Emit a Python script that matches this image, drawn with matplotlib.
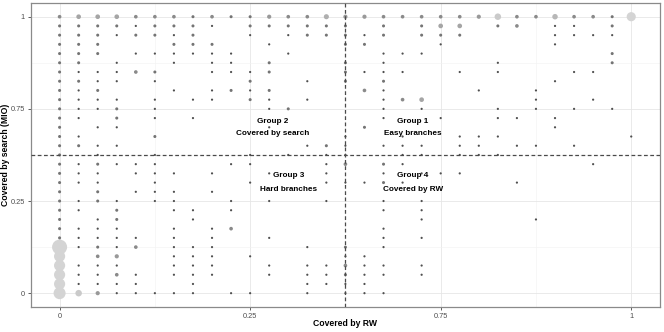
import numpy as np
import matplotlib
matplotlib.use("Agg")
import matplotlib.pyplot as plt

plt.rcParams['font.family'] = ['Liberation Sans', 'DejaVu Sans']

# Number of runs (out of 30) covering each branch: random walk (x) and search/MIO (y)
rw_runs = [
    # search = 30
    0, 1, 2, 3, 4, 5, 6, 7, 8, 9, 10, 11, 12, 13, 14, 15, 16, 17, 18, 19, 20, 21, 22, 23, 24, 25, 26, 27, 28, 29, 30,
    # 29
    0, 1, 2, 3, 4, 5, 6, 7, 8, 10, 11, 12, 13, 14, 15, 17, 19, 20, 21, 23, 24, 26, 27, 29,
    # 28
    0, 1, 2, 3, 4, 5, 6, 7, 10, 12, 13, 14, 15, 16, 17, 19, 20, 21, 26, 27, 28, 29,
    # 27
    0, 1, 2, 6, 7, 8, 11, 15, 16, 20, 26,
    # 26
    0, 1, 2, 4, 5, 6, 7, 8, 9, 12, 17, 18, 19, 29,
    # 25
    0, 1, 3, 6, 8, 9, 11, 15, 17, 23, 29,
    # 24
    0, 1, 2, 3, 4, 5, 8, 9, 10, 11, 15, 16, 17, 18, 21, 23, 27, 28,
    # 23
    0, 1, 2, 3, 5, 10, 13, 15, 17, 26,
    # 22
    0, 1, 2, 6, 8, 9, 10, 11, 16, 17, 22, 25,
    # 21
    0, 1, 2, 3, 5, 7, 8, 10, 11, 13, 17, 18, 19, 25, 28,
    # 20
    0, 1, 2, 3, 5, 11, 12, 17, 19, 23, 25, 27, 29,
    # 19
    0, 1, 3, 5, 7, 17, 20, 23, 24, 26,
    # 18
    0, 2, 3, 11, 16, 26,
    # 17
    0, 1, 5, 15, 18, 21, 22, 23, 30,
    # 16
    0, 1, 2, 3, 13, 14, 15, 17, 18, 19, 21, 22, 24, 25, 27,
    # 15
    0, 2, 5, 10, 12, 14, 15, 18, 19, 21, 22, 23,
    # 14
    0, 1, 2, 3, 4, 5, 9, 10, 14, 15, 17, 18, 28,
    # 13
    0, 1, 2, 4, 5, 6, 8, 11, 14, 17, 19, 20, 21,
    # 12
    0, 1, 2, 5, 10, 14, 15, 16, 17, 18, 24,
    # 11
    0, 2, 4, 5, 6, 8,
    # 10
    0, 1, 2, 3, 5, 6, 9, 11, 14, 17, 19,
    # 9
    0, 1, 3, 6, 7, 9, 17, 19,
    # 8
    0, 2, 3, 7, 19, 25,
    # 7
    0, 1, 2, 3, 6, 8, 9, 17,
    # 6
    0, 1, 2, 3, 4, 6, 8, 11, 17, 19,
    # 5
    0, 1, 2, 3, 4, 6, 7, 8, 13, 15, 17,
    # 4
    0, 2, 3, 6, 7, 8, 10, 15, 16,
    # 3
    0, 1, 2, 3, 6, 7, 8, 11, 13, 14, 15, 16, 17, 19,
    # 2
    0, 1, 2, 3, 4, 6, 7, 8, 11, 13, 14, 15, 16, 17, 19,
    # 1
    0, 1, 2, 3, 4, 7, 13, 14, 15, 16,
    # 0
    0, 1, 2, 3, 4, 5, 6, 7, 9, 10, 13, 15, 16, 17,
]

search_runs = ([30] * 31 + [29] * 24 + [28] * 22 + [27] * 11 + [26] * 14 + [25] * 11 +
               [24] * 18 + [23] * 10 + [22] * 12 + [21] * 15 + [20] * 13 + [19] * 10 +
               [18] * 6 + [17] * 9 + [16] * 15 + [15] * 12 + [14] * 13 + [13] * 13 +
               [12] * 11 + [11] * 6 + [10] * 11 + [9] * 8 + [8] * 6 + [7] * 8 +
               [6] * 10 + [5] * 11 + [4] * 9 + [3] * 14 + [2] * 15 + [1] * 10 + [0] * 14)

n_branches = [
    3, 5, 5, 5, 3, 3, 3, 2, 3, 2, 2, 4, 3, 3, 6, 4, 4, 3, 3, 3, 3, 3, 4, 10, 3, 3, 7, 3, 3, 2, 20,
    2, 2, 2, 2, 1, 2, 2, 2, 1, 2, 2, 2, 2, 2, 2, 2, 2, 5, 5, 2, 3, 1, 1, 2,
    2, 2, 2, 1, 2, 2, 1, 2, 1, 1, 2, 2, 2, 1, 2, 2, 2, 2, 1, 1, 1, 1,
    2, 2, 2, 2, 2, 2, 1, 2, 2, 1, 1,
    2, 2, 2, 1, 1, 1, 1, 1, 1, 1, 1, 1, 1, 2,
    2, 2, 1, 1, 1, 1, 2, 2, 1, 1, 2,
    2, 1, 1, 1, 3, 2, 1, 1, 1, 2, 2, 1, 1, 1, 1, 1, 1, 1,
    2, 2, 1, 1, 1, 2, 1, 2, 2, 1,
    2, 1, 2, 1, 1, 2, 1, 2, 3, 1, 1, 1,
    2, 1, 1, 1, 1, 1, 1, 2, 1, 1, 1, 3, 5, 1, 1,
    2, 1, 1, 2, 1, 1, 2, 1, 1, 1, 1, 1, 1,
    2, 1, 2, 1, 1, 1, 1, 1, 1, 1,
    2, 1, 1, 1, 2, 1,
    2, 1, 2, 1, 1, 1, 1, 1, 1,
    2, 2, 1, 1, 1, 2, 1, 1, 1, 1, 1, 1, 1, 1, 1,
    2, 1, 1, 1, 1, 1, 1, 1, 1, 1, 1, 1,
    2, 1, 2, 1, 1, 1, 1, 1, 1, 3, 2, 1, 1,
    2, 1, 1, 1, 1, 1, 1, 1, 1, 1, 1, 1, 1,
    2, 1, 1, 1, 1, 1, 1, 1, 2, 1, 1,
    2, 2, 1, 1, 1, 1,
    2, 1, 2, 1, 1, 1, 1, 1, 1, 1, 1,
    2, 1, 2, 1, 1, 1, 1, 1,
    2, 1, 2, 1, 1, 1,
    2, 1, 1, 1, 1, 1, 3, 1,
    2, 1, 1, 1, 1, 1, 1, 1, 1, 1,
    55, 1, 2, 1, 3, 1, 1, 1, 1, 2, 1,
    30, 3, 4, 1, 1, 1, 1, 1, 1,
    30, 1, 1, 1, 1, 1, 1, 1, 1, 1, 3, 1, 1, 1,
    30, 1, 1, 3, 1, 1, 1, 1, 1, 1, 1, 2, 1, 1, 1,
    30, 1, 1, 1, 1, 1, 1, 1, 1, 1,
    35, 10, 4, 1, 1, 1, 1, 1, 1, 1, 1, 1, 1, 1,
]

tick_positions = [0, 1 / 3, 2 / 3, 1]
tick_labels = ["0", "0.25", "0.75", "1"]

assert len(rw_runs) == len(search_runs) == len(n_branches)

x = np.array(rw_runs) / 30.0
y = np.array(search_runs) / 30.0
n = np.array(n_branches, dtype=float)

fig = plt.figure(figsize=(6.64, 3.32), dpi=100)
ax = fig.add_axes([0.0467, 0.0753, 0.947, 0.916])

# marker size (diameter in pixels -> points^2) and gray level from count
diam_px = 2.0 * np.sqrt(n) + 0.2
sizes = (diam_px * 0.72) ** 2
gray = 0.31 + 0.52 * np.minimum(1.0, np.log(n) / np.log(12))
colors = [(g, g, g) for g in gray]
order = np.argsort(-n)
ax.scatter(x[order], y[order], s=sizes[order], c=[colors[i] for i in order],
           linewidths=0, zorder=3)

ax.axvline(0.5, color="#4a4a4a", lw=0.9, ls=(0, (3, 2)), zorder=4)
ax.axhline(0.5, color="#4a4a4a", lw=0.9, ls=(0, (3, 2)), zorder=4)

ax.set_xlim(-0.05, 1.05)
ax.set_ylim(-0.05, 1.05)
ax.set_xticks(tick_positions)
ax.set_xticklabels(tick_labels)
ax.set_yticks(tick_positions)
ax.set_yticklabels(tick_labels)
ax.set_xticks([1 / 6, 0.5, 5 / 6], minor=True)
ax.set_yticks([1 / 6, 0.5, 5 / 6], minor=True)
ax.grid(True, which="major", color="#e6e6e6", lw=0.6, zorder=0)
ax.grid(True, which="minor", color="#f2f2f2", lw=0.4, zorder=0)
ax.set_axisbelow(True)
ax.tick_params(which="major", length=2.5, width=0.6, color="#444444",
               labelsize=5.3, labelcolor="#4d4d4d", pad=2)
ax.tick_params(which="minor", length=0)
for sp in ax.spines.values():
    sp.set_color("#8a8a8a")
    sp.set_linewidth(0.9)

ax.set_xlabel("Covered by RW", fontsize=6.2, fontweight="bold")
ax.set_ylabel("Covered by search (MIO)", fontsize=6.2, fontweight="bold")
ax.xaxis.set_label_coords(0.5, -0.053)
ax.yaxis.set_label_coords(-0.041, 0.5)
ax.xaxis.label.set_va("center")
ax.yaxis.label.set_va("center")

txt_kw = dict(ha="center", va="center", fontsize=5.9, fontweight="bold", color="black", zorder=5)
ax.text(0.3735, 0.622, "Group 2", **txt_kw)
ax.text(0.3735, 0.576, "Covered by search", **txt_kw)
ax.text(0.618, 0.622, "Group 1", **txt_kw)
ax.text(0.618, 0.576, "Easy branches", **txt_kw)
ax.text(0.401, 0.4255, "Group 3", **txt_kw)
ax.text(0.401, 0.375, "Hard branches", **txt_kw)
ax.text(0.618, 0.4255, "Group 4", **txt_kw)
ax.text(0.618, 0.375, "Covered by RW", **txt_kw)

fig.savefig("out.png", dpi=100)
